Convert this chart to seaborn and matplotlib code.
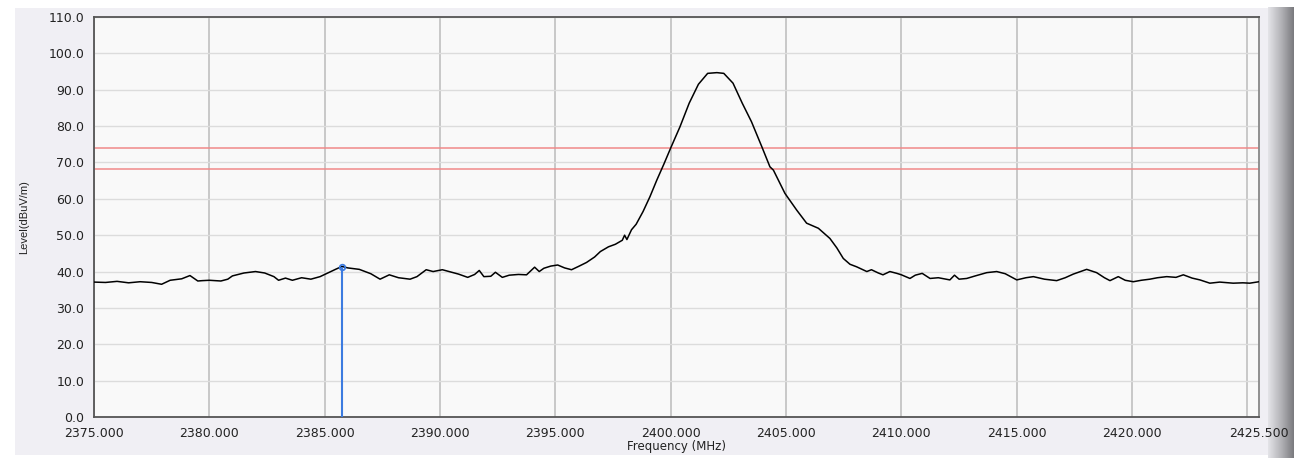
import numpy as np
import pandas as pd
import seaborn as sns
from matplotlib import pyplot as plt
from matplotlib.ticker import FixedLocator, FixedFormatter

# trace (MHz, dBuV/m)
freq = [
    2375.0, 2375.5, 2376.0, 2376.5, 2377.0, 2377.5, 2377.93, 2378.3, 2378.8, 2379.16,
    2379.5, 2379.7, 2380.0, 2380.5, 2380.8, 2381.0, 2381.5, 2382.0, 2382.4, 2382.8,
    2383.0, 2383.3, 2383.6, 2384.0, 2384.4, 2384.8, 2385.1, 2385.5, 2385.75, 2386.0,
    2386.5, 2387.0, 2387.4, 2387.8, 2388.2, 2388.7, 2389.0, 2389.4, 2389.7, 2390.1,
    2390.5, 2390.8, 2391.2, 2391.5, 2391.7, 2391.9, 2392.2, 2392.4, 2392.7, 2393.0,
    2393.4, 2393.75, 2394.1, 2394.3, 2394.5, 2394.8, 2395.1, 2395.4, 2395.7, 2396.0,
    2396.35, 2396.7, 2396.95, 2397.3, 2397.6, 2397.9, 2398.0, 2398.1, 2398.3, 2398.5,
    2398.8, 2399.1, 2399.4, 2399.7, 2400.0, 2400.4, 2400.8, 2401.2, 2401.6, 2402.0,
    2402.3, 2402.7, 2403.1, 2403.5, 2403.95, 2404.3, 2404.45, 2404.95, 2405.46, 2405.89,
    2406.4, 2406.9, 2407.2, 2407.48, 2407.77, 2408.06, 2408.5, 2408.7, 2409.0, 2409.2,
    2409.5, 2409.8, 2410.0, 2410.37, 2410.6, 2410.9, 2411.24, 2411.6, 2412.1, 2412.3,
    2412.5, 2412.83, 2413.2, 2413.7, 2414.13, 2414.5, 2415.0, 2415.4, 2415.72, 2416.2,
    2416.73, 2417.1, 2417.45, 2418.03, 2418.46, 2418.8, 2419.04, 2419.4, 2419.7, 2420.05,
    2420.4, 2420.77, 2421.1, 2421.5, 2421.9, 2422.22, 2422.6, 2422.94, 2423.37, 2423.8,
    2424.38, 2424.8, 2425.1, 2425.5,
]
level = [
    37.1, 37.0, 37.3, 36.9, 37.2, 37.0, 36.5, 37.6, 38.0, 38.9,
    37.4, 37.5, 37.6, 37.4, 37.9, 38.8, 39.6, 40.0, 39.6, 38.6,
    37.6, 38.2, 37.6, 38.3, 37.9, 38.6, 39.5, 40.7, 41.4, 41.0,
    40.6, 39.4, 37.9, 39.1, 38.3, 37.9, 38.6, 40.5, 40.0, 40.5,
    39.8, 39.3, 38.4, 39.2, 40.3, 38.6, 38.7, 39.8, 38.4, 39.0,
    39.2, 39.1, 41.2, 40.0, 40.9, 41.5, 41.8, 41.0, 40.5, 41.4,
    42.5, 44.0, 45.5, 46.8, 47.5, 48.6, 50.0, 48.8, 51.5, 53.0,
    56.5, 60.6, 65.2, 69.5, 74.0, 79.8, 86.3, 91.5, 94.5, 94.7,
    94.5, 91.8, 86.3, 81.2, 74.3, 68.8, 67.9, 61.5, 56.9, 53.3,
    51.9, 49.1, 46.5, 43.6, 42.0, 41.3, 40.0, 40.5, 39.6, 39.1,
    40.0, 39.5, 39.1, 38.1, 39.0, 39.5, 38.1, 38.3, 37.7, 39.0,
    37.9, 38.1, 38.8, 39.7, 40.0, 39.4, 37.7, 38.3, 38.6, 37.9,
    37.5, 38.3, 39.3, 40.6, 39.7, 38.3, 37.5, 38.6, 37.6, 37.2,
    37.6, 37.9, 38.3, 38.6, 38.4, 39.1, 38.2, 37.7, 36.8, 37.1,
    36.8, 36.9, 36.8, 37.2,
]

limits = [74.0, 68.2]          # peak / EIRP limit lines
marker_freq = 2385.75
marker_level = 41.3

xticks = [2375, 2380, 2385, 2390, 2395, 2400, 2405, 2410, 2415, 2420, 2425, 2425.5]
xlabels = ["2375.000", "2380.000", "2385.000", "2390.000", "2395.000", "2400.000",
           "2405.000", "2410.000", "2415.000", "2420.000", "", "2425.500"]
yticks = np.arange(0, 111, 10)

df = pd.DataFrame({"Frequency": freq, "Level": level})

sns.set_style("white")
plt.rcParams['font.family'] = ['DejaVu Sans']

fig = plt.figure(figsize=(12.94, 4.58), dpi=100, facecolor="white")

# lavender window background
bg = fig.add_axes([15 / 1294, 3 / 458, 1255 / 1294, 447 / 458])
bg.set_facecolor("#f0eff4")
bg.set_xticks([])
bg.set_yticks([])
for s in bg.spines.values():
    s.set_visible(False)

# scrollbar-ish strip on the right
sb = fig.add_axes([1268 / 1294, 0, 26 / 1294, 451 / 458])
grad = np.linspace(0, 1, 64)[None, :]
sb.imshow(grad, aspect="auto", cmap=sns.blend_palette(["#e4e4e8", "#b4b4b8", "#7a7a7e"], as_cmap=True))
sb.set_xticks([])
sb.set_yticks([])
for s in sb.spines.values():
    s.set_visible(False)

ax = fig.add_axes([94 / 1294, 41 / 458, 1165 / 1294, 400 / 458])
ax.set_facecolor("#f9f9f9")

# grid
for x in xticks[:-1]:
    ax.axvline(x, color="#c4c4c4", lw=1.3, zorder=1)
for y in yticks[1:]:
    ax.axhline(y, color="#dcdcdc", lw=1.0, zorder=1)

for lim in limits:
    ax.axhline(lim, color="#f08a8a", lw=1.1, zorder=2)

sns.lineplot(data=df, x="Frequency", y="Level", color="black", lw=1.1, ax=ax, zorder=3)

ax.vlines(marker_freq, 0, marker_level, color="#3c7be0", lw=1.5, zorder=4)
ax.plot([marker_freq], [marker_level], marker="o", ms=4, mfc="none", mec="#3c7be0", mew=1.3, zorder=5)

ax.set_xlim(2375, 2425.5)
ax.set_ylim(0, 110)
ax.xaxis.set_major_locator(FixedLocator(xticks))
ax.xaxis.set_major_formatter(FixedFormatter(xlabels))
ax.set_yticks(yticks)
ax.set_yticklabels([f"{v:.1f}" for v in yticks])
ax.tick_params(axis="both", direction="out", length=5, width=1.2, color="#333333",
               labelsize=9, labelcolor="#222222", pad=2)
ax.tick_params(axis="x", pad=2)

for s in ax.spines.values():
    s.set_color("#555555")
    s.set_linewidth(1.3)
ax.spines["right"].set_color("#888888")

ax.set_xlabel("Frequency (MHz)", fontsize=8.5, color="#222222", labelpad=0)
ax.set_ylabel("Level(dBuV/m)", fontsize=8, color="#222222", labelpad=14,
              family=["Liberation Sans"])

fig.savefig("out.png", dpi=100)
